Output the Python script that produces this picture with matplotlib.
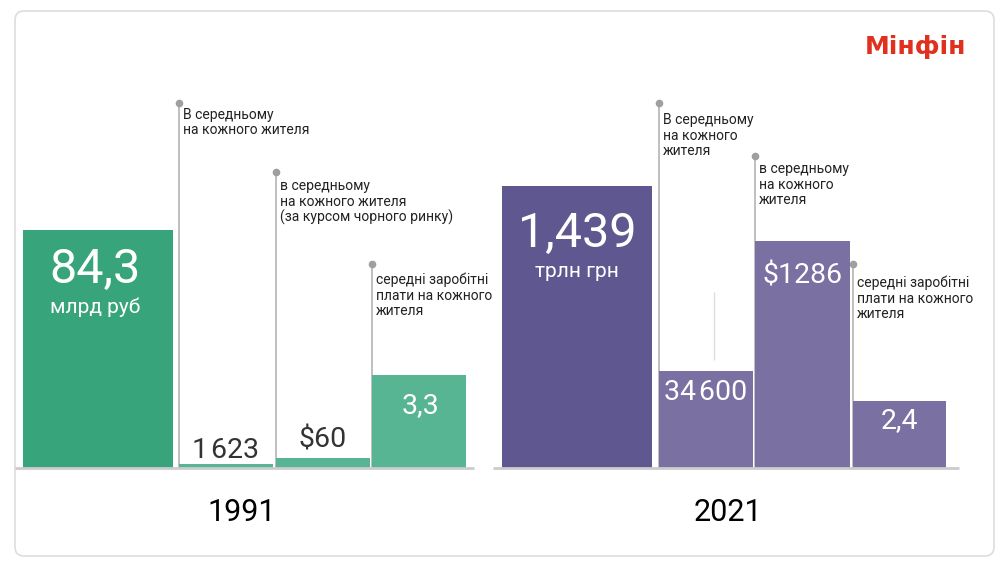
import matplotlib.pyplot as plt
from matplotlib.patches import FancyBboxPatch

plt.rcParams['font.family'] = ['Roboto', 'DejaVu Sans']

# values shown on the infographic
years = ["1991", "2021"]
heights_1991 = [238, 4, 10, 93]     # visual heights
heights_2021 = [282, 97, 227, 67]
labels_1991 = ["84,3", "1\u200a623", "$60", "3,3"]
labels_2021 = ["1,439", "34\u200a600", "$1286", "2,4"]
units = ["млрд руб", "трлн грн"]
notes_1991 = ["В середньому\nна кожного жителя",
              "в середньому\nна кожного жителя\n(за курсом чорного ринку)",
              "середні заробітні\nплати на кожного\nжителя"]
notes_2021 = ["В середньому\nна кожного\nжителя",
              "в середньому\nна кожного\nжителя",
              "середні заробітні\nплати на кожного\nжителя"]

# layout (pixel-ish units, y measured up from the baseline)
lefts = [[23, 179, 276, 372], [502, 659, 755, 853]]
widths = [[150, 94, 94, 94], [150, 94, 95, 93]]
colors = [["#37a47c", "#57b593", "#57b593", "#57b593"],
          ["#5f578f", "#7a70a2", "#7a70a2", "#7a70a2"]]
leader_tops = [[365, 296, 204], [365, 312, 204]]
note_base = [[350, 278, 185], [345, 296, 182]]   # first-line baselines
line_step = 16
label_base = [[185, 10, 21, 55], [221, 68, 185, 40]]
label_dx = [[-3, 0, 0, 1], [0, 0, 0, 0]]
unit_base = [155, 191]
label_color = [["white", "#333333", "#333333", "white"], ["white"] * 4]
base_span = [(15, 474), (493, 959)]
year_x = [242, 728]

fig = plt.figure(figsize=(10, 5.68), dpi=100)
ax = fig.add_axes([0, 0, 1, 1])
ax.set_xlim(0, 1000)
ax.set_ylim(-100, 468)
ax.axis("off")

# card border
ax.add_patch(FancyBboxPatch((15, -88), 979, 545, boxstyle="round,pad=0,rounding_size=9",
                            fc="white", ec="#dddddd", lw=1.2, zorder=0))

heights = [heights_1991, heights_2021]
labels = [labels_1991, labels_2021]
notes = [notes_1991, notes_2021]

for g in range(2):
    ax.bar(lefts[g], heights[g], width=widths[g], align="edge",
           color=colors[g], lw=0, zorder=2)
    ax.hlines(0, *base_span[g], color="#cccccc", lw=2, zorder=3)

    # leader lines with notes
    for i in range(3):
        x = lefts[g][i + 1] - 0.5
        ax.vlines(x, 0, leader_tops[g][i], color="#b4b4b4", lw=1.2, zorder=1)
        ax.plot(x, leader_tops[g][i], "o", ms=5.5, color="#9f9f9f", mec="none", zorder=1)
        nlines = notes[g][i].count("\n")
        ax.text(x + 4.5, note_base[g][i] - nlines * line_step, notes[g][i],
                fontsize=10, color="#222222", ha="left", va="baseline",
                linespacing=1.12, zorder=4)

    # value labels
    for i in range(4):
        cx = lefts[g][i] + widths[g][i] / 2 + label_dx[g][i]
        size = 35 if i == 0 else 20.5
        ax.text(cx, label_base[g][i], labels[g][i], fontsize=size,
                color=label_color[g][i], ha="center", va="baseline", zorder=4)
    ax.text(lefts[g][0] + widths[g][0] / 2 + label_dx[g][0], unit_base[g], units[g],
            fontsize=15, color="white", ha="center", va="baseline", zorder=4)

    # year
    ax.text(year_x[g], -53, years[g], fontsize=22, color="black", ha="center", va="baseline")

# stray thin line in the 2021 group
ax.vlines(714, 108, 176, color="#dddddd", lw=1, zorder=1)

# logo
ax.text(865, 414, "Мінфін", fontsize=18, fontweight="bold", color="#e0301e",
        family="DejaVu Sans", ha="left", va="baseline")

fig.savefig("out.png", dpi=100, facecolor="white")
